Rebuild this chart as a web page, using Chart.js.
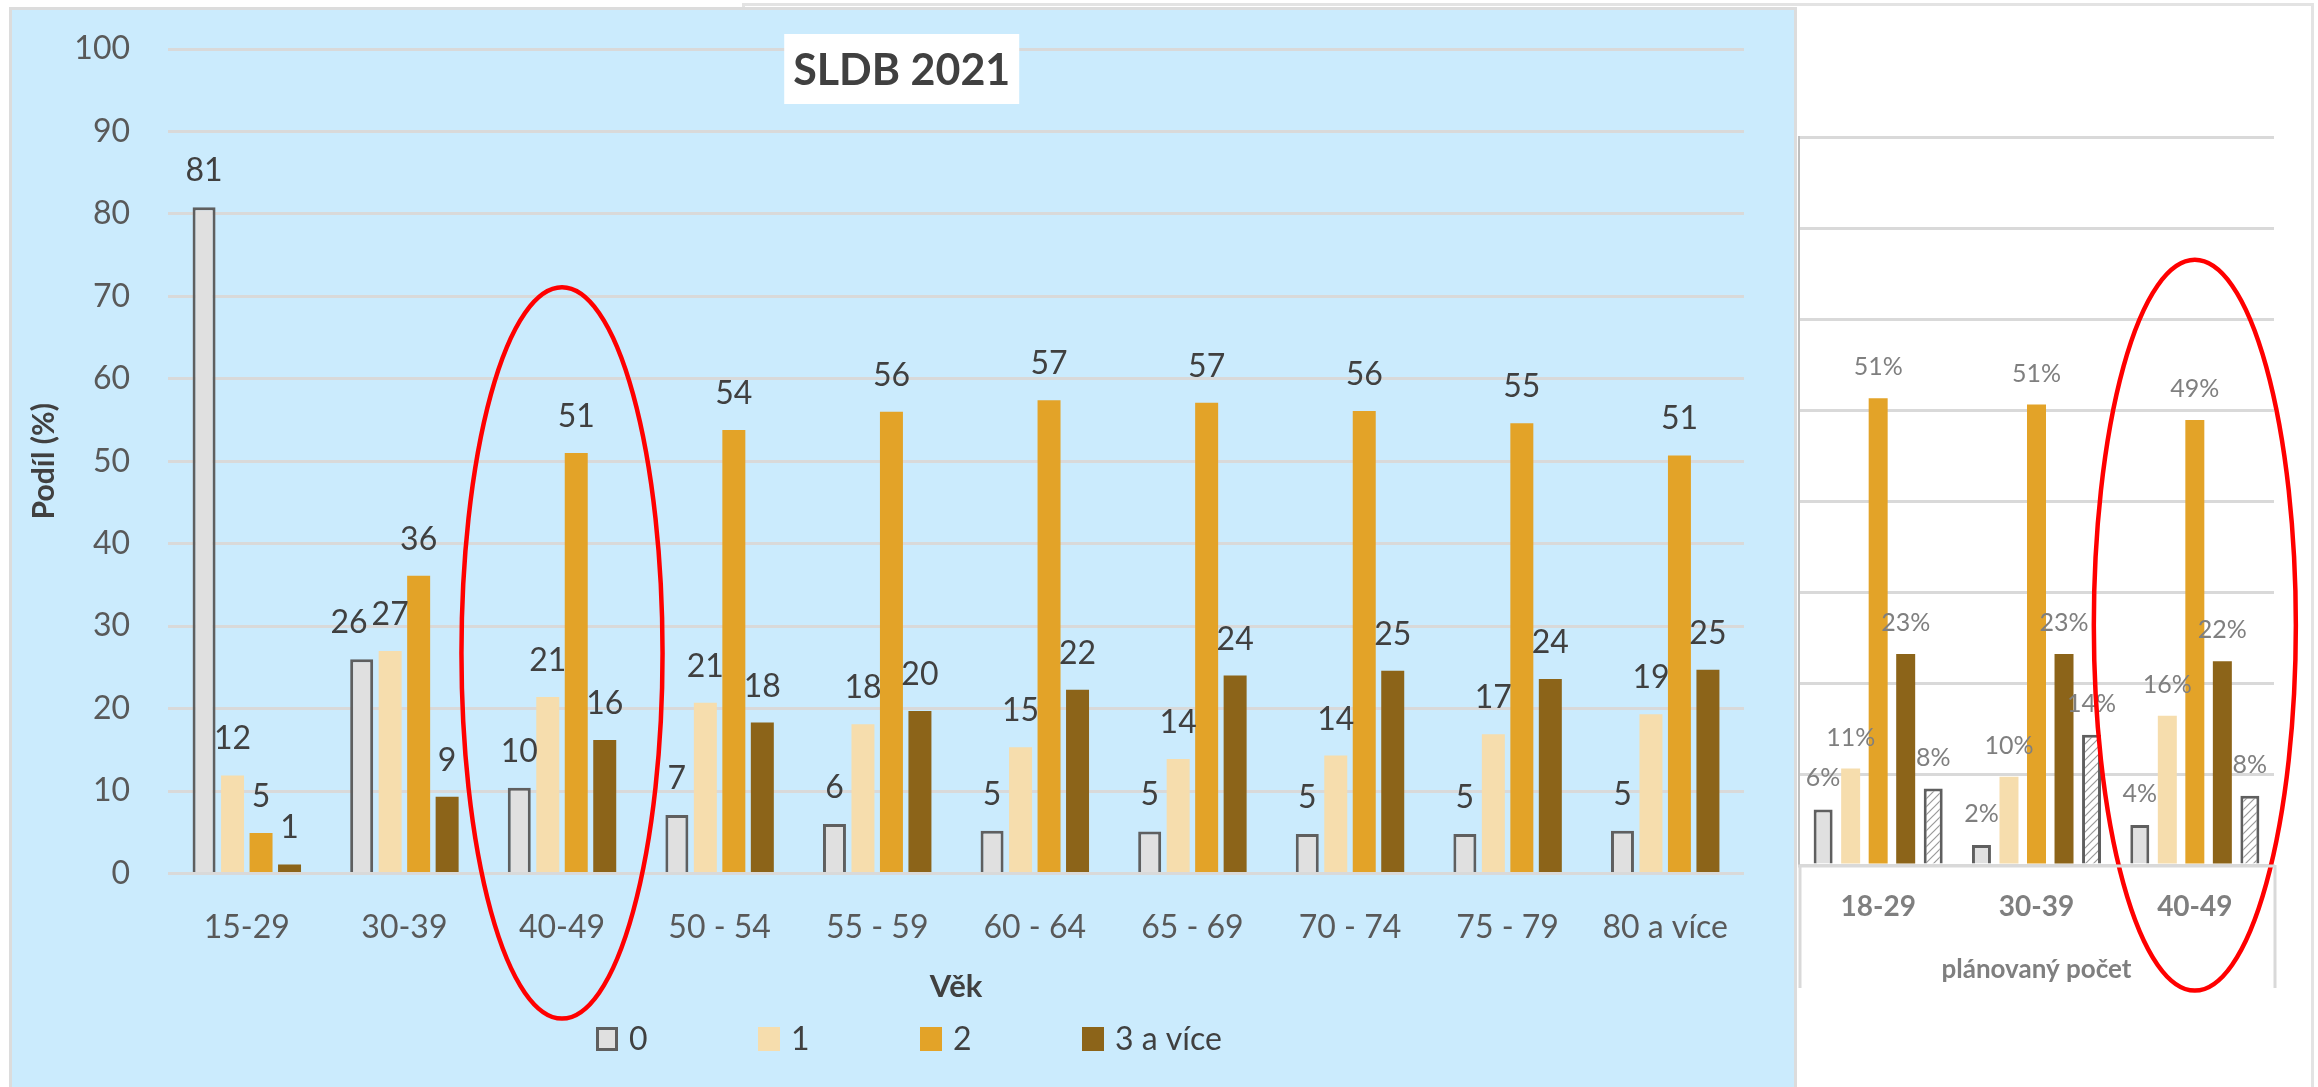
<!DOCTYPE html>
<html><head><meta charset="utf-8">
<script src="https://cdn.jsdelivr.net/npm/chart.js@4.4.1/dist/chart.umd.min.js"></script>
<style>
html,body{margin:0;padding:0;background:#fff;width:2318px;height:1087px;overflow:hidden;position:relative;}
#back{position:absolute;left:742px;top:3px;width:1572px;height:1100px;border:3px solid #e3e3e3;background:#fff;box-sizing:border-box;}
#blue{position:absolute;left:9px;top:7px;width:1788px;height:1100px;border:3px solid #dcdcdc;background:#CBEBFD;box-sizing:border-box;}
#cA{position:absolute;left:12px;top:11px;}
#cB{position:absolute;left:1797px;top:0px;}
</style></head><body>
<div id="back"></div><div id="blue"></div>
<canvas id="cA" width="1781" height="1076"></canvas>
<canvas id="cB" width="517" height="1087"></canvas>
<script>
// ---- main chart data (SLDB 2021) ----
const ageGroups = ['15-29','30-39','40-49','50 - 54','55 - 59','60 - 64','65 - 69','70 - 74','75 - 79','80 a více'];
const seriesNames = ['0','1','2','3 a více'];
const share0 = [80.8, 26.0, 10.4, 7.1, 6.0, 5.2, 5.1, 4.8, 4.8, 5.2];
const share1 = [11.9, 27.0, 21.4, 20.7, 18.1, 15.3, 13.9, 14.3, 16.9, 19.3];
const share2 = [4.9, 36.1, 51.0, 53.8, 56.0, 57.4, 57.1, 56.1, 54.6, 50.7];
const share3 = [1.1, 9.3, 16.2, 18.3, 19.7, 22.3, 24.0, 24.6, 23.6, 24.7];
const yTicks = [0,10,20,30,40,50,60,70,80,90,100];

// ---- right chart data (plánovaný počet) ----
const planGroups = ['18-29','30-39','40-49'];
const planNames = ['0','1','2','3 a více','neví'];
const plan0 = [6.1, 2.2, 4.4];
const plan1 = [10.6, 9.7, 16.4];
const plan2 = [51.3, 50.6, 48.9];
const plan3 = [23.2, 23.2, 22.4];
const plan4 = [8.4, 14.3, 7.6];

const COL = {grey:'#E0E0E0', greyB:'#5F5F5F', beige:'#F6DDAD', orange:'#E3A328', brown:'#8C6419'};

function hatch(){
  const c=document.createElement('canvas'); c.width=c.height=8;
  const g=c.getContext('2d');
  g.fillStyle='#ffffff'; g.fillRect(0,0,8,8);
  g.strokeStyle='#9a9a9a'; g.lineWidth=1.2;
  g.beginPath(); g.moveTo(0,8); g.lineTo(8,0); g.moveTo(-1,1); g.lineTo(1,-1); g.moveTo(7,9); g.lineTo(9,7); g.stroke();
  return g.createPattern(c,'repeat');
}

const valueLabels = {
  id:'valueLabels',
  afterDatasetsDraw(chart, args, o){
    const ctx = chart.ctx;
    ctx.save();
    ctx.font = o.font; ctx.fillStyle = o.color; ctx.textAlign='center'; ctx.textBaseline='alphabetic';
    const n = chart.data.labels.length;
    for (let i=0;i<n;i++){
      const items=[];
      chart.data.datasets.forEach((ds,d)=>{
        const el = chart.getDatasetMeta(d).data[i];
        const text = Math.round(ds.data[i]) + o.suffix;
        items.push({x:el.x, y:el.y - o.offset, w:ctx.measureText(text).width, text});
      });
      for (let k=items.length-2;k>=0;k--){
        const a=items[k], b=items[k+1];
        if (Math.abs(a.y-b.y) < o.size*0.9){
          const ov = (a.x + a.w/2 + 4) - (b.x - b.w/2);
          if (ov>0) a.x -= ov;
        }
      }
      items.forEach(it=>ctx.fillText(it.text,it.x,it.y));
    }
    ctx.restore();
  }
};

const ellipse = {
  id:'ellipse',
  afterDraw(chart,args,o){
    const xs=chart.scales.x, ys=chart.scales.y, ctx=chart.ctx;
    const cx = xs.getPixelForValue(o.index);
    const t = ys.getPixelForValue(o.top), b = ys.getPixelForValue(o.bottom);
    const rx = o.rx * (xs.width / chart.data.labels.length);
    ctx.save();
    ctx.strokeStyle='#FF0000'; ctx.lineWidth=o.width;
    ctx.beginPath(); ctx.ellipse(cx,(t+b)/2,rx,(b-t)/2,0,0,Math.PI*2); ctx.stroke();
    ctx.restore();
  }
};

const boxTitle = {
  id:'boxTitle',
  afterDraw(chart,args,o){
    const a=chart.chartArea, ctx=chart.ctx;
    const x = a.left + o.fx*(a.right-a.left), y = a.top + o.dy;
    ctx.save();
    ctx.fillStyle='#ffffff'; ctx.fillRect(x,y,o.w,o.h);
    ctx.fillStyle='#404040'; ctx.font=o.font; ctx.textAlign='center'; ctx.textBaseline='middle';
    ctx.fillText(o.text, x+o.w/2, y+o.h/2+2);
    ctx.restore();
  }
};

const legendRow = {
  id:'legendRow',
  afterDraw(chart,args,o){
    const ctx=chart.ctx;
    ctx.save();
    ctx.font=o.font; ctx.textAlign='left'; ctx.textBaseline='alphabetic';
    const y = chart.height - o.fromBottom;
    chart.data.datasets.forEach((ds,i)=>{
      const x = chart.width/2 + o.start + i*o.pitch;
      ctx.fillStyle = ds.backgroundColor;
      ctx.fillRect(x, y - o.bh/2, o.bw, o.bh);
      if (ds.borderWidth){
        ctx.lineWidth = ds.borderWidth; ctx.strokeStyle = ds.borderColor;
        ctx.strokeRect(x + ds.borderWidth/2, y - o.bh/2 + ds.borderWidth/2, o.bw - ds.borderWidth, o.bh - ds.borderWidth);
      }
      ctx.fillStyle = o.color;
      ctx.fillText(ds.label, x + o.bw + o.gap, y + o.size*0.358);
    });
    ctx.restore();
  }
};

const catBox = {
  id:'catBox',
  afterDraw(chart,args,o){
    const a=chart.chartArea, ctx=chart.ctx;
    ctx.save();
    ctx.strokeStyle='#D9D9D9'; ctx.lineWidth=3;
    ctx.beginPath();
    ctx.moveTo(a.left-1, a.bottom+1); ctx.lineTo(a.right+1, a.bottom+1);
    ctx.moveTo(a.left+1, a.bottom); ctx.lineTo(a.left+1, a.bottom+o.depth);
    ctx.moveTo(a.right+1, a.bottom); ctx.lineTo(a.right+1, a.bottom+o.depth);
    ctx.stroke();
    ctx.restore();
  }
};

new Chart(document.getElementById('cA'), {
  type:'bar',
  data:{labels:ageGroups, datasets:[
    {label:seriesNames[0], data:share0, backgroundColor:COL.grey, borderColor:COL.greyB, borderWidth:3},
    {label:seriesNames[1], data:share1, backgroundColor:COL.beige, borderColor:COL.beige, borderWidth:0},
    {label:seriesNames[2], data:share2, backgroundColor:COL.orange, borderColor:COL.orange, borderWidth:0},
    {label:seriesNames[3], data:share3, backgroundColor:COL.brown, borderColor:COL.brown, borderWidth:0}
  ]},
  options:{
    responsive:false, animation:false,
    datasets:{bar:{categoryPercentage:0.723, barPercentage:0.807}},
    layout:{padding:{left:0,right:49,top:38,bottom:0}},
    plugins:{
      legend:{display:false},
      tooltip:{enabled:false},
      title:{display:false},
      valueLabels:{font:'32px Lato', size:32, color:'#404040', suffix:'', offset:26},
      ellipse:{index:2, top:71.1, bottom:-17.6, rx:0.638, width:4.5},
      boxTitle:{text:'SLDB 2021', font:'bold 43px Lato', fx:0.391, dy:-15, w:235, h:70},
      legendRow:{font:'32px Lato', size:32, color:'#404040', fromBottom:48, start:-306.5, pitch:162, bw:22, bh:24, gap:11}
    },
    scales:{
      x:{
        grid:{display:false, drawTicks:false}, border:{display:false},
        ticks:{font:{family:'Lato',size:32}, color:'#595959', padding:35, maxRotation:0, autoSkip:false},
        title:{display:true, text:'Věk', font:{family:'Lato',size:31,weight:'bold'}, color:'#404040', padding:{top:0,bottom:81.4}},
        afterFit(s){ s.height = 213.5; }
      },
      y:{
        min:0, max:100,
        afterBuildTicks(s){ s.ticks = yTicks.map(v=>({value:v})); },
        ticks:{font:{family:'Lato',size:32}, color:'#595959', padding:0},
        grid:{color:'#D9D9D9', lineWidth:3, drawTicks:true, tickLength:38, tickColor:'rgba(0,0,0,0)'}, border:{display:false},
        title:{display:true, text:'Podíl (%)', font:{family:'Lato',size:30,weight:'bold'}, color:'#404040', padding:{top:14,bottom:0}},
        afterFit(s){ s.width = 156; }
      }
    }
  },
  plugins:[valueLabels, ellipse, boxTitle, legendRow]
});

new Chart(document.getElementById('cB'), {
  type:'bar',
  data:{labels:planGroups, datasets:[
    {label:planNames[0], data:plan0, backgroundColor:COL.grey, borderColor:COL.greyB, borderWidth:3},
    {label:planNames[1], data:plan1, backgroundColor:COL.beige, borderWidth:0},
    {label:planNames[2], data:plan2, backgroundColor:COL.orange, borderWidth:0},
    {label:planNames[3], data:plan3, backgroundColor:COL.brown, borderWidth:0},
    {label:planNames[4], data:plan4, backgroundColor:hatch(), borderColor:COL.greyB, borderWidth:3}
  ]},
  options:{
    responsive:false, animation:false,
    datasets:{bar:{categoryPercentage:0.869, barPercentage:0.69}},
    layout:{padding:{left:0,right:40,top:137,bottom:0}},
    plugins:{
      legend:{display:false}, tooltip:{enabled:false},
      valueLabels:{font:'25px Lato', size:25, color:'#7F7F7F', suffix:'%', offset:23},
      ellipse:{index:2, top:66.5, bottom:-13.8, rx:0.638, width:4.5},
      catBox:{depth:123}
    },
    scales:{
      x:{
        grid:{display:false, drawTicks:false}, border:{display:false},
        ticks:{font:{family:'Lato',size:28,weight:'bold'}, color:'#7F7F7F', padding:25, maxRotation:0},
        title:{display:true, text:'plánovaný počet', font:{family:'Lato',size:26,weight:'bold'}, color:'#7F7F7F', padding:{top:0,bottom:101.4}},
        afterFit(s){ s.height = 222; }
      },
      y:{
        min:0, max:80,
        ticks:{display:false, stepSize:10},
        grid:{color:'#D9D9D9', lineWidth:3, drawTicks:false},
        border:{display:true, color:'#BFBFBF', width:2},
        afterFit(s){ s.width = 2; }
      }
    }
  },
  plugins:[valueLabels, ellipse, catBox]
});
</script>
</body></html>
